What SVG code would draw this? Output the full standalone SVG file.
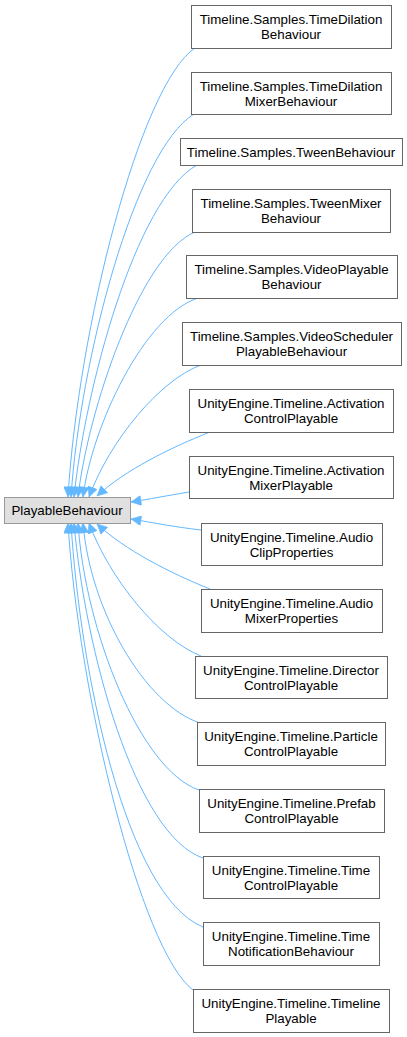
<svg xmlns="http://www.w3.org/2000/svg" width="407" height="1037" viewBox="0 0 407 1037">
<style>
.n rect{fill:#fff;stroke:#666;stroke-width:1}
#root rect{fill:#e0e0e0;stroke:#999;stroke-width:1}
text{font-family:"Liberation Sans",Arial,sans-serif;font-size:13.33px;fill:#000;text-anchor:middle}
.e path{fill:none;stroke:#63b8ff;stroke-width:1;marker-end:url(#ah)}
</style>
<defs>
<marker id="ah" viewBox="0 0 10 10" refX="10" refY="5" markerWidth="11" markerHeight="10" markerUnits="userSpaceOnUse" orient="auto">
<path d="M0,0 L10,5 L0,10 z" fill="#63b8ff" stroke="#63b8ff" stroke-width="0.5"/>
</marker>
</defs>
<rect width="407" height="1037" fill="#fff"/>
<g class="e" id="edges">
<path d="M195,48 C140,85 78,330 68,497"/>
<path d="M194,114 C135,150 80,360 71,497"/>
<path d="M197,165 C135,200 85,390 74,497"/>
<path d="M195,232 C140,255 88,410 78,497"/>
<path d="M198,298 C145,315 92,425 83,497"/>
<path d="M201,365 C160,380 110,440 89,497"/>
<path d="M210,432 C170,448 125,470 97,496"/>
<path d="M189,492 C165,496 150,499 131,502"/>
<path d="M201,530 C175,527 155,523 131,519"/>
<path d="M210,589 C170,573 125,550 97,524"/>
<path d="M201,656 C160,640 110,580 89,523"/>
<path d="M200,723 C145,705 90,610 83,523"/>
<path d="M199,790 C140,770 85,630 78,523"/>
<path d="M203,858 C135,835 85,650 74,523"/>
<path d="M203,927 C125,895 80,670 71,523"/>
<path d="M193,990 C140,950 78,690 68,523"/>
</g>
<g id="root"><rect x="4.5" y="497.5" width="126" height="26"/><text x="67" y="515">PlayableBehaviour</text></g>
<g class="n" id="n1"><rect x="191.5" y="5.5" width="200" height="43"/><text x="291" y="24">Timeline.Samples.TimeDilation</text><text x="291" y="39">Behaviour</text></g>
<g class="n" id="n2"><rect x="191.5" y="72.5" width="200" height="42"/><text x="291" y="91">Timeline.Samples.TimeDilation</text><text x="291" y="106">MixerBehaviour</text></g>
<g class="n" id="n3"><rect x="180.5" y="138.5" width="222" height="27"/><text x="291" y="157">Timeline.Samples.TweenBehaviour</text></g>
<g class="n" id="n4"><rect x="192.5" y="189.5" width="198" height="43"/><text x="291" y="208">Timeline.Samples.TweenMixer</text><text x="291" y="223">Behaviour</text></g>
<g class="n" id="n5"><rect x="186.5" y="255.5" width="211" height="43"/><text x="291.5" y="274">Timeline.Samples.VideoPlayable</text><text x="291.5" y="289">Behaviour</text></g>
<g class="n" id="n6"><rect x="182.5" y="322.5" width="219" height="43"/><text x="291.5" y="341">Timeline.Samples.VideoScheduler</text><text x="291.5" y="356">PlayableBehaviour</text></g>
<g class="n" id="n7"><rect x="189.5" y="389.5" width="204" height="43"/><text x="291" y="408">UnityEngine.Timeline.Activation</text><text x="291" y="423">ControlPlayable</text></g>
<g class="n" id="n8"><rect x="189.5" y="456.5" width="204" height="42"/><text x="291" y="475">UnityEngine.Timeline.Activation</text><text x="291" y="490">MixerPlayable</text></g>
<g class="n" id="n9"><rect x="201.5" y="523.5" width="181" height="42"/><text x="291.5" y="542">UnityEngine.Timeline.Audio</text><text x="291.5" y="557">ClipProperties</text></g>
<g class="n" id="n10"><rect x="201.5" y="589.5" width="181" height="43"/><text x="291.5" y="608">UnityEngine.Timeline.Audio</text><text x="291.5" y="623">MixerProperties</text></g>
<g class="n" id="n11"><rect x="195.5" y="656.5" width="192" height="42"/><text x="291" y="675">UnityEngine.Timeline.Director</text><text x="291" y="690">ControlPlayable</text></g>
<g class="n" id="n12"><rect x="197.5" y="722.5" width="188" height="43"/><text x="291" y="741">UnityEngine.Timeline.Particle</text><text x="291" y="756">ControlPlayable</text></g>
<g class="n" id="n13"><rect x="199.5" y="789.5" width="185" height="43"/><text x="291.5" y="808">UnityEngine.Timeline.Prefab</text><text x="291.5" y="823">ControlPlayable</text></g>
<g class="n" id="n14"><rect x="203.5" y="856.5" width="176" height="42"/><text x="291" y="875">UnityEngine.Timeline.Time</text><text x="291" y="890">ControlPlayable</text></g>
<g class="n" id="n15"><rect x="203.5" y="922.5" width="176" height="43"/><text x="291" y="941">UnityEngine.Timeline.Time</text><text x="291" y="956">NotificationBehaviour</text></g>
<g class="n" id="n16"><rect x="193.5" y="989.5" width="196" height="43"/><text x="291" y="1008">UnityEngine.Timeline.Timeline</text><text x="291" y="1023">Playable</text></g>
</svg>
